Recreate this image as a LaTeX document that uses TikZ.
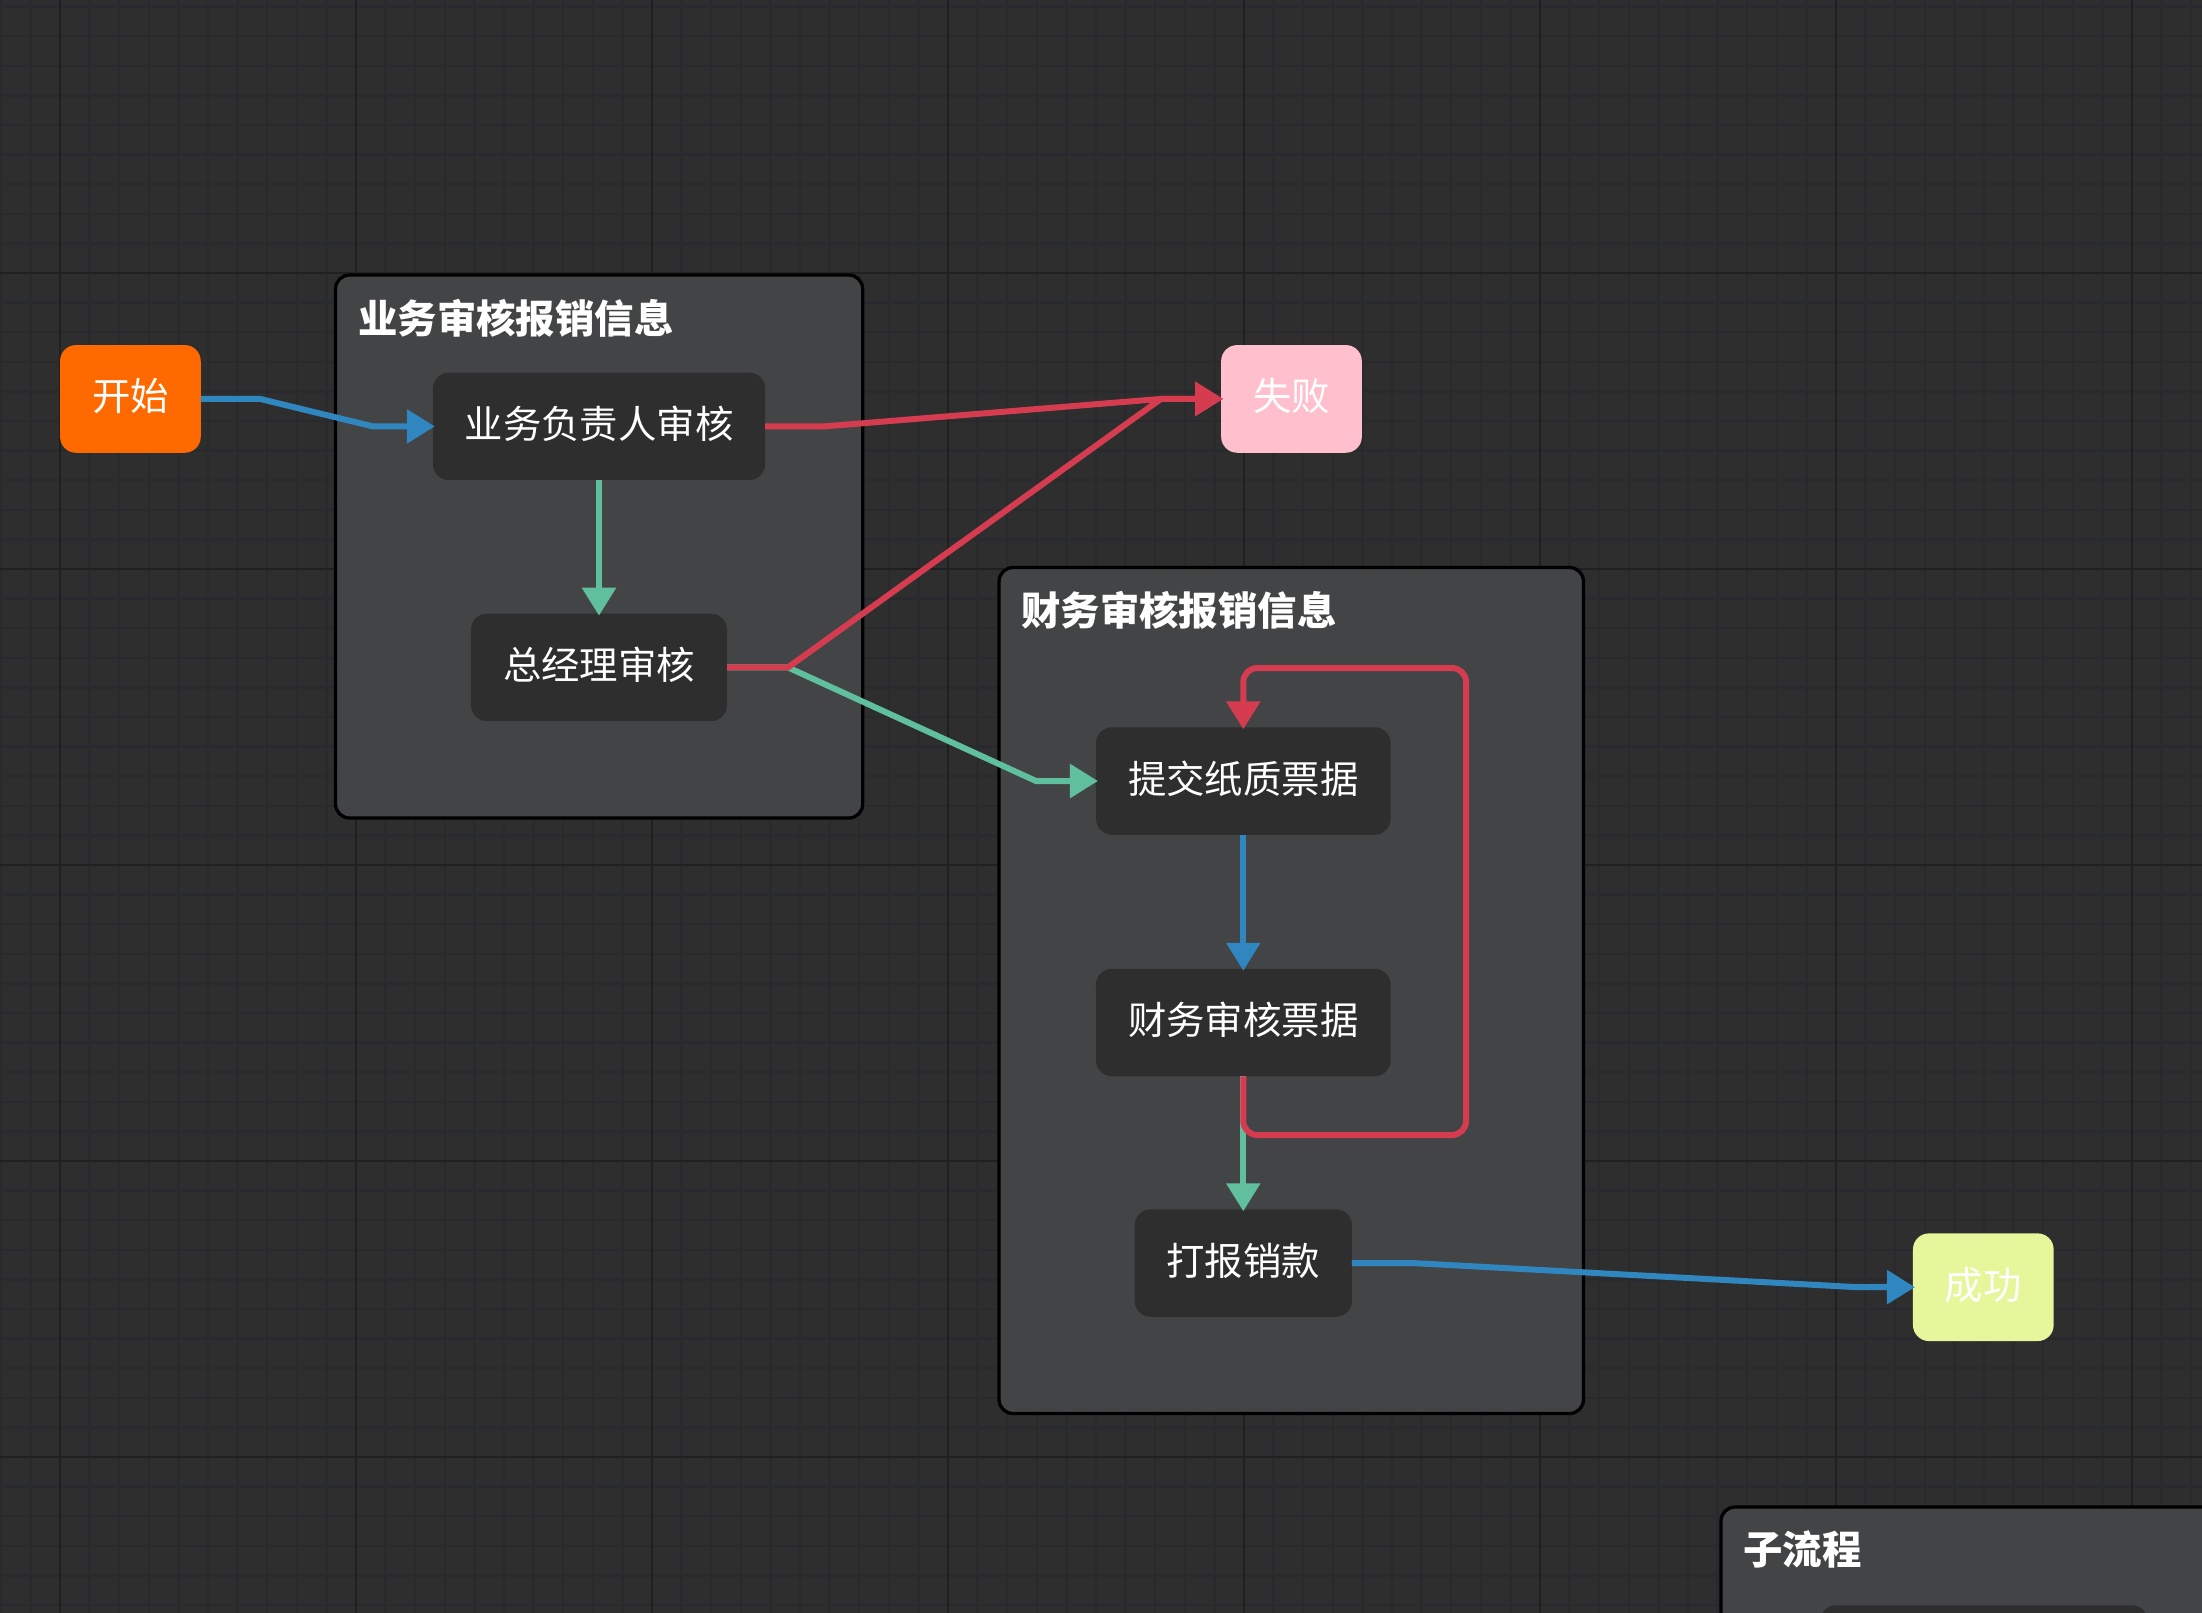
\documentclass[tikz,border=0pt]{standalone}
\usepackage{fontspec}
\setmainfont{Noto Sans CJK SC}
\usetikzlibrary{arrows.meta}
\definecolor{canvasbg}{HTML}{2E2E2E}
\definecolor{gridminor}{HTML}{282A2D}
\definecolor{gridmajor}{HTML}{1F2121}
\definecolor{groupbg}{HTML}{434446}
\definecolor{flowblue}{HTML}{3087C0}
\definecolor{flowred}{HTML}{D53C50}
\definecolor{flowgreen}{HTML}{60BF9D}
\tikzset{
  box/.style={rectangle,rounded corners=16pt,inner sep=0pt,outer sep=0pt,text=white,text height=30pt,text depth=6pt,font=\fontsize{38.4}{46}\selectfont},
  task/.style={box,fill=canvasbg,minimum height=107.5pt},
  endbox/.style={box,minimum width=140.7pt,minimum height=107.7pt},
  group/.style={rectangle,rounded corners=14pt,draw=black,line width=3.3pt,fill=groupbg,inner sep=0pt,outer sep=0pt},
  title/.style={anchor=west,inner sep=0pt,text=white,font=\fontsize{39.4}{48}\selectfont\bfseries},
  flow/.style={line width=6pt,shorten >=-2pt,-{Triangle[length=28pt,width=33pt]}},
  blueflow/.style={flow,draw=flowblue,color=flowblue},
  redflow/.style={flow,draw=flowred,color=flowred},
  greenflow/.style={flow,draw=flowgreen,color=flowgreen}
}
\begin{document}
\begin{tikzpicture}[x=1pt,y=-1pt]
\useasboundingbox (0,0) rectangle (2202,1612);
\clip (-6,-6) rectangle (2208,1618);
\fill[canvasbg] (-6,-6) rectangle (2208,1618);
% grid
\draw[gridminor,line width=2.4pt,step=29.6pt,shift={(0.8,6.6)}] (-10,-10) grid (2210,1620);
\draw[gridmajor,line width=2.6pt,step=296pt,shift={(60,273)}] (-70,-280) grid (2150,1345);
% groups
\node[group,minimum width=527.2pt,minimum height=543pt] (review) at (599.1,546.5) {};
\node[group,minimum width=584.5pt,minimum height=846pt] (finance) at (1291.25,990.5) {};
\node[group,minimum width=800pt,minimum height=400pt] (sub) at (2121,1707) {};
\node[title] (reviewtitle) at (358,318) {业务审核报销信息};
\node[title] (financetitle) at (1021,610) {财务审核报销信息};
\node[title] (subtitle) at (1743,1549) {子流程};
% nodes
\node[endbox,fill={rgb,255:red,255;green,106;blue,0}] (start) at (130.4,398.9) {开始};
\node[endbox,fill={rgb,255:red,255;green,191;blue,204}] (fail) at (1291.5,398.9) {失败};
\node[endbox,fill={rgb,255:red,230;green,246;blue,154}] (success) at (1983.3,1287.2) {成功};
\node[task,minimum width=332.3pt] (owner) at (599,426.4) {业务负责人审核};
\node[task,minimum width=256pt] (manager) at (599,667.4) {总经理审核};
\node[task,minimum width=294.7pt] (paper) at (1243.3,781) {提交纸质票据};
\node[task,minimum width=294.7pt] (check) at (1243.3,1022.5) {财务审核票据};
\node[task,minimum width=217.3pt] (pay) at (1243.3,1263) {打报销款};
\node[task,minimum width=328pt] (subtask) at (1984,1659) {};
% connectors
\coordinate (managerout) at (788,667.4);
\coordinate (failin) at (1161,398.9);
\path[draw,blueflow] (start.east) -- (260,398.9) -- (373,426.4) -- (owner.west);
\path[draw,greenflow] (owner.south) -- (manager.north);
\path[draw,greenflow] (manager.east) -- (managerout) -- (1036,781) -- (paper.west);
\path[draw,redflow] (owner.east) -- (824,426.4) -- (failin) -- (fail.west);
\path[draw,redflow] (manager.east) -- (managerout) -- (failin) -- (fail.west);
\path[draw,blueflow] (paper.south) -- (check.north);
\path[draw,greenflow] (check.south) -- (pay.north);
\path[draw,redflow,rounded corners=14pt] (check.south) -- (1243.3,1135) -- (1466,1135) -- (1466,668) -- (1243.3,668) -- (paper.north);
\path[draw,blueflow] (pay.east) -- (1412,1263) -- (1854,1287) -- (success.west);
\end{tikzpicture}
\end{document}
